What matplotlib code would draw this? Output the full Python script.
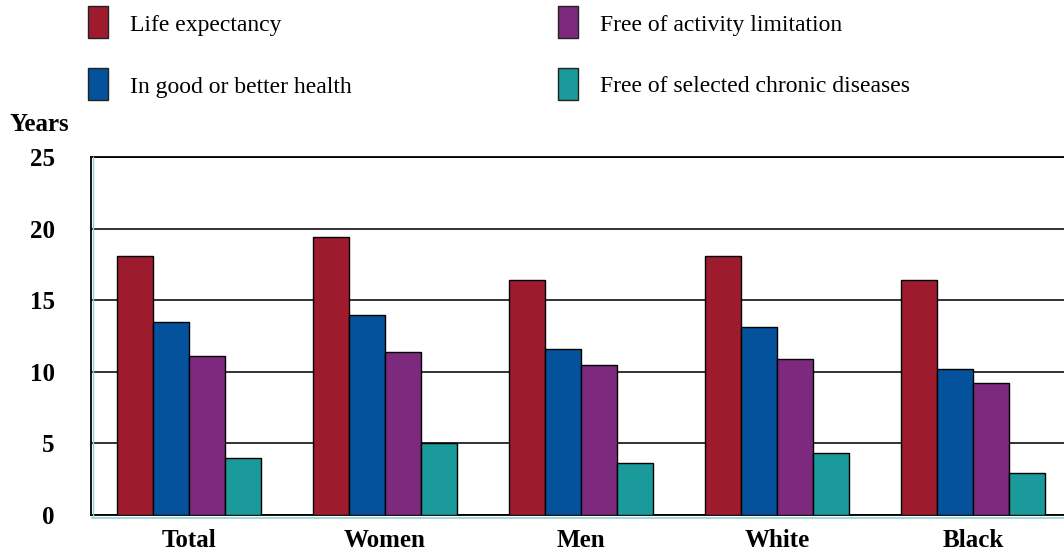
import matplotlib
matplotlib.use("Agg")
import matplotlib.pyplot as plt
from matplotlib.patches import Rectangle
from matplotlib.lines import Line2D
import numpy as np

groups = ["Total", "Women", "Men", "White", "Black"]
series_names = ["Life expectancy", "In good or better health",
                "Free of activity limitation", "Free of selected chronic diseases"]
life_expectancy = [18.1, 19.4, 16.4, 18.1, 16.4]
good_health = [13.5, 14.0, 11.6, 13.1, 10.2]
no_activity_limit = [11.1, 11.4, 10.5, 10.9, 9.2]
no_chronic = [4.0, 5.0, 3.6, 4.3, 2.9]
yticks = [0, 5, 10, 15, 20, 25]

colors = ["#9E1B2E", "#04529B", "#7D2A7E", "#1A9A9A"]
series = [life_expectancy, good_health, no_activity_limit, no_chronic]

plt.rcParams['font.family'] = ['Liberation Serif', 'DejaVu Serif']

fig = plt.figure(figsize=(10.64, 5.54), dpi=100)
ax = fig.add_axes([0.0855, 0.0704, 0.9145, 0.6462])

x = np.arange(len(groups))
w = 0.184
for i, (vals, c) in enumerate(zip(series, colors)):
    ax.bar(x + (i - 1.5) * w, vals, width=w, color=c, edgecolor="black",
           linewidth=1.0, zorder=3)

ax.set_xlim(-0.5, 4.465)
ax.set_ylim(0, 25)
ax.set_yticks(yticks)
ax.set_yticklabels([str(t) for t in yticks], fontsize=18, fontweight="bold")
ax.set_xticks(x)
ax.set_xticklabels(groups, fontsize=18, fontweight="bold")
ax.tick_params(axis="y", length=0, pad=26)
ax.tick_params(axis="x", length=0, pad=10)
ax.yaxis.grid(True, color="#222222", linewidth=1.3, zorder=0)
ax.set_axisbelow(True)
ax.spines["right"].set_visible(False)
for s in ["left", "bottom", "top"]:
    ax.spines[s].set_color("black")
    ax.spines[s].set_linewidth(1.3)

# thin teal rule under the baseline and beside the left axis
fig.add_artist(Line2D([0.0865, 1.0], [0.0655, 0.0655], color="#8FD3D3",
                      linewidth=1.2, transform=fig.transFigure))
fig.add_artist(Line2D([0.0875, 0.0875], [0.068, 0.716], color="#8FD3D3",
                      linewidth=1.0, transform=fig.transFigure))

fig.text(0.009, 0.775, "Years", fontsize=18, fontweight="bold",
         ha="left", va="center")

# legend boxes drawn by hand in two columns
legend_pos = [(88, 22), (88, 84), (558, 22), (558, 84)]
for (px, py), name, c in zip(legend_pos, series_names, colors):
    fig.add_artist(Rectangle((px / 1064, 1 - (py + 16) / 554), 20 / 1064, 32 / 554,
                             facecolor=c, edgecolor="#222222", linewidth=1.0,
                             transform=fig.transFigure))
    fig.text((px + 42) / 1064, 1 - (py + 3) / 554, name, fontsize=17,
             ha="left", va="center")

fig.savefig("out.png", dpi=100)
